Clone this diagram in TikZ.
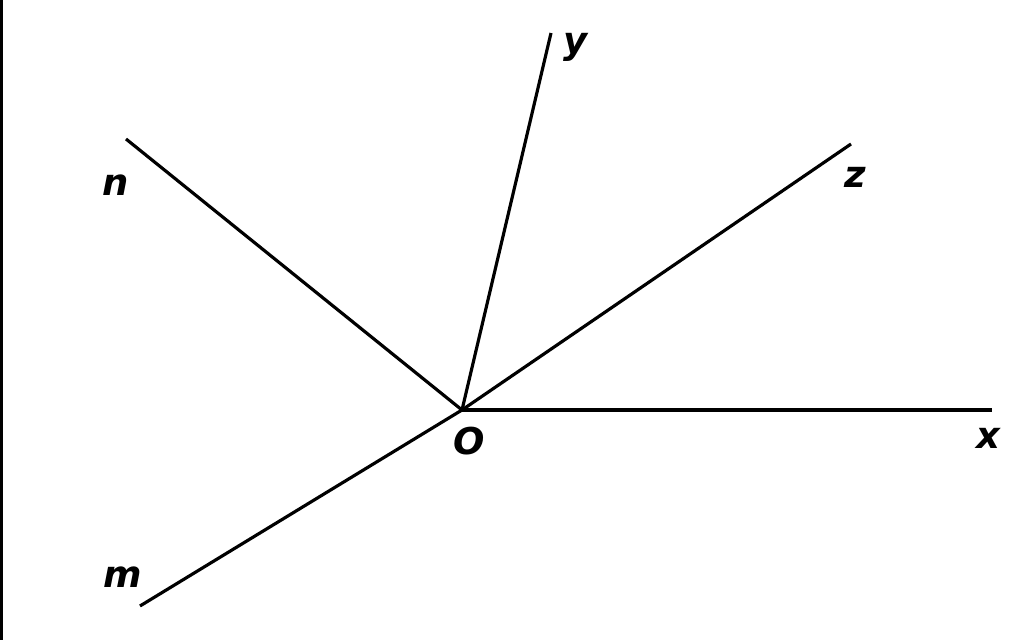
\documentclass[tikz,border=0pt]{standalone}
\usepackage{fontspec}
\setmainfont{DejaVu Sans}
\usetikzlibrary{positioning}

\begin{document}
\begin{tikzpicture}[x=0.01cm, y=-0.01cm, l/.style={inner sep=0pt, font=\fontsize{10.5}{12}\selectfont\bfseries\itshape}, r/.style={line width=0.9pt}]
		\useasboundingbox (0,0) rectangle (1024,640);
		\draw[line width=0.9pt] (1.5,0) -- (1.5,640);
		\coordinate (O) at (462,410);
		\coordinate (X) at (992,410);
		\coordinate (Y) at (551,33);
		\coordinate (Z) at (851,144);
		\coordinate (N) at (126,139);
		\coordinate (M) at (140,606);
		\node[l] (O_label) at (469,441) {O};
		\node[l] (X_label) at (988,438) {x};
		\node[l] (Y_label) at (576,47) {y};
		\node[l] (Z_label) at (855,177) {z};
		\node[l] (N_label) at (116,185) {n};
		\node[l] (M_label) at (123,577) {m};

		\draw[r] (O) -- (X);
		\draw[r] (O) -- (Y);
		\draw[r] (O) -- (Z);
		\draw[r] (O) -- (N);
		\draw[r] (O) -- (M);
	\end{tikzpicture}
\end{document}
